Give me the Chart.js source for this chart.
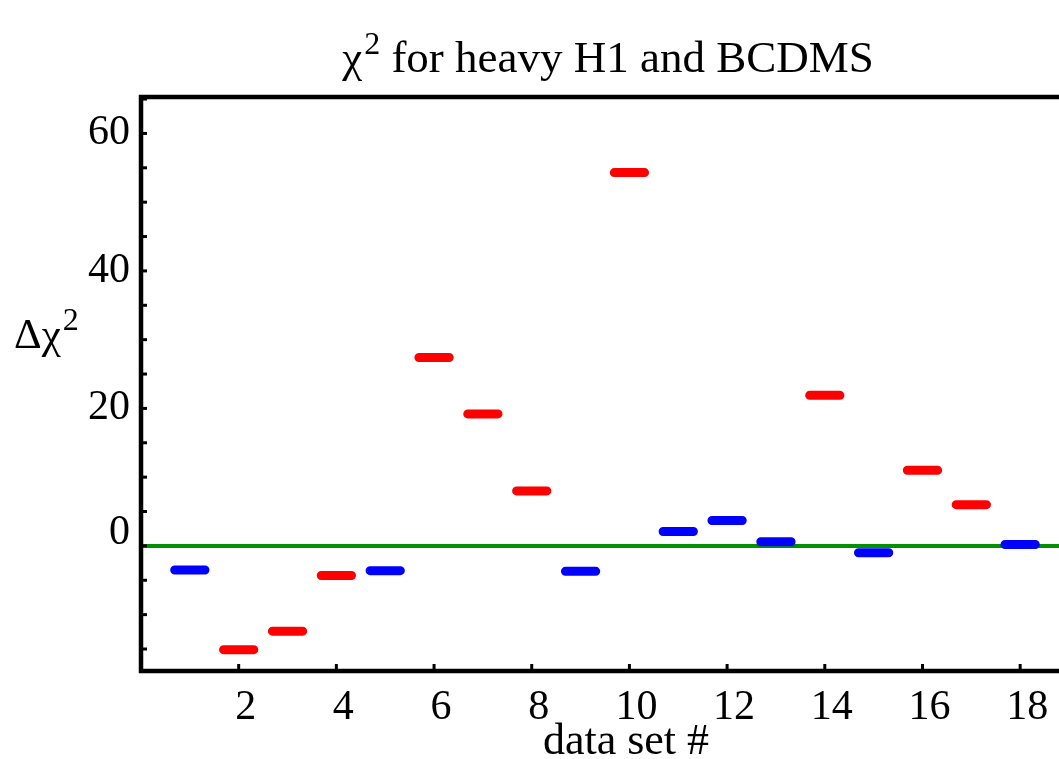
<!DOCTYPE html>
<html><head><meta charset="utf-8">
<script src="https://cdn.jsdelivr.net/npm/chart.js@4/dist/chart.umd.min.js"></script>
<style>html,body{margin:0;padding:0;overflow:hidden;background:#fff}</style>
</head><body>
<canvas id="c" width="1075" height="759"></canvas>
<script>
// ---- data ----
const dataSetNumbers = [1,2,3,4,5,6,7,8,9,10,11,12,13,14,15,16,17,18];
const deltaChi2      = [-3.5,-15.1,-12.4,-4.3,-3.6,27.4,19.2,8.0,-3.7,54.3,2.1,3.7,0.6,21.9,-1.0,11.0,6.0,0.2];
const markerGroup    = ['b','r','r','r','b','r','r','r','b','r','b','b','b','r','b','r','r','b'];
const xTickLabels    = [2,4,6,8,10,12,14,16,18];
const yTickLabels    = [0,20,40,60];
const titleBase = 'χ';
const titleRest = ' for heavy H1 and BCDMS';
const yAxisBase = 'Δχ';
const superscript = '2';
const xAxisTitle = 'data set #';

// ---- style ----
const FONT = "'Liberation Serif','Times New Roman',serif";
const groupColor = { r: '#ff0000', b: '#0000ff' };
const HALF = 0.31;

function segs(g) {
  const out = [];
  dataSetNumbers.forEach((n, i) => {
    if (markerGroup[i] !== g) return;
    out.push({ x: n - HALF, y: deltaChi2[i] }, { x: n + HALF, y: deltaChi2[i] }, { x: n + HALF, y: null });
  });
  return out;
}

function drawSup(ctx, base, sup, rest, x, y, size, supSize, raise, align) {
  ctx.font = size + 'px ' + FONT;
  const wb = ctx.measureText(base).width;
  const wr = rest ? ctx.measureText(rest).width : 0;
  ctx.font = supSize + 'px ' + FONT;
  const ws = ctx.measureText(sup).width + 2;
  const total = wb + ws + wr;
  let x0 = align === 'center' ? x - total / 2 : x;
  ctx.textAlign = 'left';
  ctx.textBaseline = 'alphabetic';
  ctx.font = size + 'px ' + FONT;
  ctx.fillText(base, x0, y);
  ctx.font = supSize + 'px ' + FONT;
  ctx.fillText(sup, x0 + wb + 2, y - raise);
  if (rest) {
    ctx.font = size + 'px ' + FONT;
    ctx.fillText(rest, x0 + wb + ws, y);
  }
}

const decor = {
  id: 'decor',
  beforeDatasetsDraw(chart) {
    const { ctx, chartArea: a, scales: { y } } = chart;
    const py = y.getPixelForValue(0);
    ctx.save();
    ctx.strokeStyle = '#009000';
    ctx.lineWidth = 4;
    ctx.beginPath(); ctx.moveTo(a.left, py); ctx.lineTo(a.right, py); ctx.stroke();
    ctx.restore();
  },
  afterDatasetsDraw(chart) {
    const { ctx, chartArea: a, scales: { x, y } } = chart;
    ctx.save();
    ctx.strokeStyle = '#000';
    ctx.lineWidth = 3;
    for (let v = Math.ceil(y.min / 5) * 5; v <= y.max; v += 5) {
      const p = y.getPixelForValue(v);
      ctx.beginPath(); ctx.moveTo(a.left, p); ctx.lineTo(a.left + 6, p); ctx.stroke();
    }
    xTickLabels.forEach(v => {
      const p = x.getPixelForValue(v);
      ctx.beginPath(); ctx.moveTo(p, a.bottom); ctx.lineTo(p, a.bottom - 7); ctx.stroke();
    });
    ctx.lineWidth = 4.5;
    ctx.strokeRect(a.left, a.top, a.right - a.left, a.bottom - a.top);
    ctx.fillStyle = '#000';
    drawSup(ctx, titleBase, superscript, titleRest, (a.left + a.right) / 2 + 3, 72, 45, 32, 18, 'center');
    drawSup(ctx, yAxisBase, superscript, '', 14, 348, 43, 32, 18, 'left');
    ctx.font = '44px ' + FONT;
    ctx.textAlign = 'center';
    ctx.textBaseline = 'middle';
    ctx.fillText(xAxisTitle, (a.left + a.right) / 2 + 21, 742);
    ctx.restore();
  }
};

new Chart(document.getElementById('c'), {
  type: 'line',
  data: {
    datasets: [
      { data: segs('r'), borderColor: groupColor.r, borderWidth: 9, borderCapStyle: 'round', pointRadius: 0, spanGaps: false },
      { data: segs('b'), borderColor: groupColor.b, borderWidth: 9, borderCapStyle: 'round', pointRadius: 0, spanGaps: false }
    ]
  },
  options: {
    responsive: false,
    animation: false,
    devicePixelRatio: 1,
    layout: { padding: { left: 0, right: 6, top: 97, bottom: 0 } },
    plugins: {
      legend: { display: false },
      tooltip: { enabled: false },
      title: { display: false }
    },
    scales: {
      x: {
        type: 'linear', min: 0, max: 19,
        grid: { display: false, drawTicks: false },
        border: { display: false },
        afterBuildTicks: s => { s.ticks = xTickLabels.map(v => ({ value: v })); },
        ticks: {
          padding: 12, labelOffset: 7, color: '#000', maxRotation: 0, autoSkip: false,
          font: { family: FONT, size: 42 },
          callback: v => String(v)
        },
        afterFit: s => { s.height = 88; }
      },
      y: {
        min: -18.2, max: 65.3,
        grid: { display: false, drawTicks: false },
        border: { display: false },
        afterBuildTicks: s => { s.ticks = yTickLabels.map(v => ({ value: v })); },
        ticks: {
          padding: 11, color: '#000', autoSkip: false,
          font: { family: FONT, size: 42, lineHeight: 0.62 },
          callback: v => v === 0 ? [String(v), ''] : String(v)
        },
        afterFit: s => { s.width = 141; }
      }
    }
  },
  plugins: [decor]
});
</script>
</body></html>
